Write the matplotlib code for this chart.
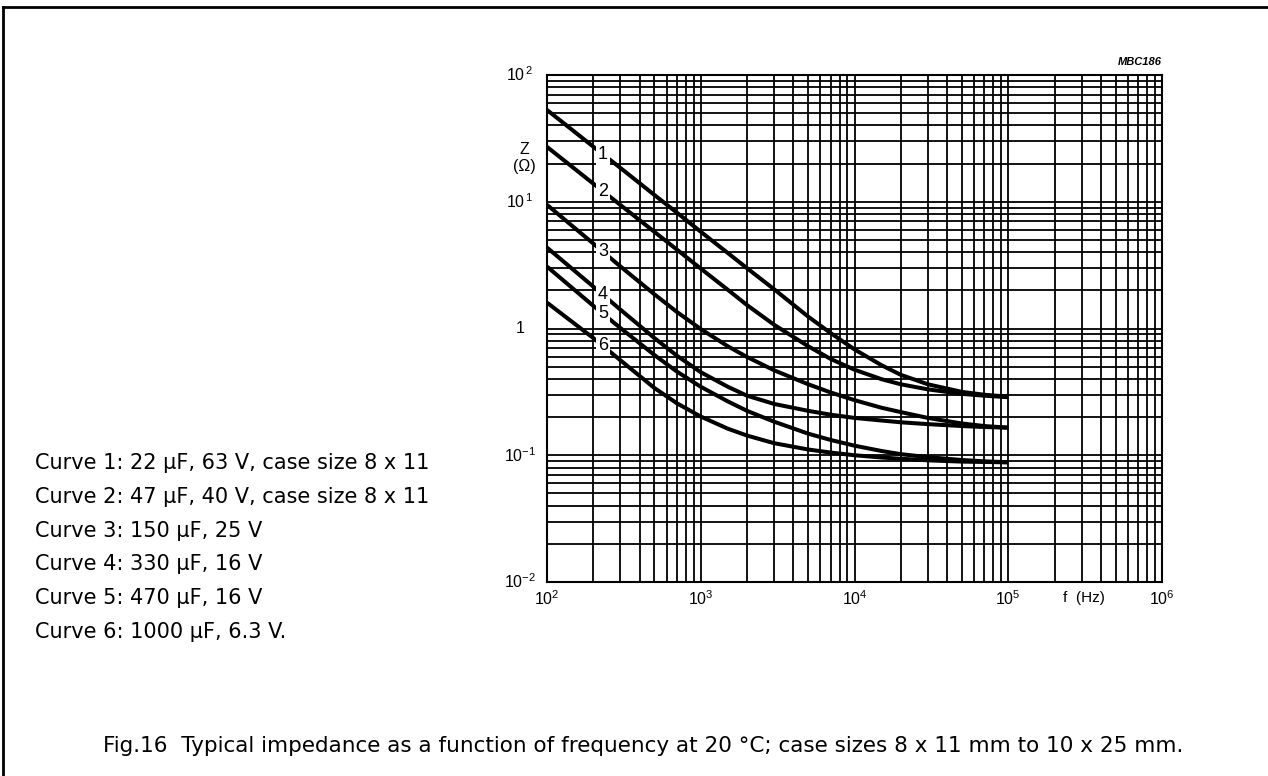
import numpy as np
import matplotlib
matplotlib.use("Agg")
import matplotlib.pyplot as plt
from matplotlib.lines import Line2D

plt.rcParams["font.family"] = ["Liberation Sans", "DejaVu Sans"]
plt.rcParams["mathtext.fontset"] = "custom"
plt.rcParams["mathtext.rm"] = "Liberation Sans"
plt.rcParams["mathtext.it"] = "Liberation Sans:italic"

# fréquences (Hz)
freq = [100, 200, 300, 500, 700, 1000, 1500, 2000, 3000, 5000, 7000,
        10000, 15000, 20000, 30000, 50000, 70000, 100000]

# impédance Z (ohm) de chaque courbe
z1 = [53, 27.2, 18.5, 11.3, 8.2, 5.8, 3.94, 2.99, 2.04, 1.24, 0.92,
      0.684, 0.513, 0.431, 0.363, 0.316, 0.30, 0.29]
z2 = [27.1, 13.9, 9.44, 5.78, 4.19, 2.97, 2.02, 1.53, 1.07, 0.724, 0.575,
      0.473, 0.398, 0.363, 0.331, 0.305, 0.295, 0.287]
z3 = [9.46, 4.68, 3.09, 1.86, 1.35, 0.99, 0.724, 0.596, 0.468, 0.363, 0.313,
      0.272, 0.237, 0.219, 0.197, 0.178, 0.17, 0.165]
z4 = [4.35, 2.14, 1.41, 0.84, 0.61, 0.452, 0.347, 0.295, 0.254, 0.224, 0.209,
      0.197, 0.188, 0.182, 0.176, 0.17, 0.167, 0.165]
z5 = [3.08, 1.51, 1.01, 0.617, 0.457, 0.347, 0.266, 0.224, 0.184, 0.148, 0.132,
      0.119, 0.108, 0.102, 0.0966, 0.0917, 0.0895, 0.0881]
z6 = [1.60, 0.841, 0.562, 0.339, 0.257, 0.202, 0.162, 0.143, 0.1245, 0.111, 0.105,
      0.100, 0.096, 0.0938, 0.0912, 0.0891, 0.0885, 0.0879]
courbes = [z1, z2, z3, z4, z5, z6]
numeros = ["1", "2", "3", "4", "5", "6"]

legende = [
    "Curve 1: 22 \u00b5F, 63 V, case size 8 x 11",
    "Curve 2: 47 \u00b5F, 40 V, case size 8 x 11",
    "Curve 3: 150 \u00b5F, 25 V",
    "Curve 4: 330 \u00b5F, 16 V",
    "Curve 5: 470 \u00b5F, 16 V",
    "Curve 6: 1000 \u00b5F, 6.3 V.",
]
legende_titre = ("Fig.16  Typical impedance as a function of frequency at 20 \u00b0C; "
                 "case sizes 8 x 11 mm to 10 x 25 mm.")

yticks = [1e-2, 1e-1, 1, 1e1, 1e2]
ytick_labels = [r"$10^{-2}$", r"$10^{-1}$", "1", r"$10^{\,1}$", r"$10^{\,2}$"]
xticks = [1e2, 1e3, 1e4, 1e5, 1e6]
xtick_labels = [r"$10^{2}$", r"$10^{3}$", r"$10^{4}$", r"$10^{5}$", r"$10^{6}$"]

W, H = 1268, 776
fig = plt.figure(figsize=(W / 100, H / 100), dpi=100)
ax = fig.add_axes([547 / W, 1 - 582 / H, 615 / W, 507 / H])

ax.set_xscale("log")
ax.set_yscale("log")
ax.set_xlim(1e2, 1e6)
ax.set_ylim(1e-2, 1e2)

# grille log complète
ax.grid(True, which="both", color="black", lw=1.3)
for s in ax.spines.values():
    s.set_linewidth(1.5)
ax.tick_params(which="both", length=0)
ax.set_xticks(xticks)
ax.set_xticklabels(xtick_labels, fontsize=11.5)
ax.tick_params(axis="x", pad=5)
ax.set_yticks(yticks)
ax.set_yticklabels([])

for val, lab in zip(yticks, ytick_labels):
    ax.text(-0.044, val, lab, transform=ax.get_yaxis_transform(),
            ha="center", va="center", fontsize=11.5)

ax.text(-0.036, 25.7, "Z", transform=ax.get_yaxis_transform(),
        ha="center", va="center", fontsize=11.5)
ax.text(-0.036, 18.9, "(\u03a9)", transform=ax.get_yaxis_transform(),
        ha="center", va="center", fontsize=11.5)
ax.text(3.1e5, -0.018, "f  (Hz)", transform=ax.get_xaxis_transform(),
        ha="center", va="top", fontsize=11)
ax.text(1.0, 1.015, "MBC186", transform=ax.transAxes, ha="right", va="bottom",
        fontsize=8, fontweight="bold", style="italic")

# courbes + numéros
f_label = 231
for z, num in zip(courbes, numeros):
    ax.plot(freq, z, color="black", lw=2.9, solid_capstyle="butt", zorder=3)
    zl = 10 ** np.interp(np.log10(f_label), np.log10(freq), np.log10(z))
    ax.text(f_label, zl, num, ha="center", va="center", fontsize=13, zorder=4,
            bbox=dict(boxstyle="square,pad=0.1", fc="white", ec="none"))

# texte de gauche
for i, txt in enumerate(legende):
    fig.text(35 / W, 1 - (463 + i * 33.8) / H, txt, ha="left", va="center",
             fontsize=15, family="DejaVu Sans")

fig.text(103 / W, 1 - 746 / H, legende_titre, ha="left", va="center",
         fontsize=15.5, family="DejaVu Sans")

# cadre (haut et gauche)
fig.add_artist(Line2D([3 / W, 1], [1 - 7 / H, 1 - 7 / H], color="black", lw=2,
                      transform=fig.transFigure))
fig.add_artist(Line2D([3 / W, 3 / W], [1 - 7 / H, 0], color="black", lw=2,
                      transform=fig.transFigure))

fig.savefig("out.png", dpi=100, facecolor="white")
